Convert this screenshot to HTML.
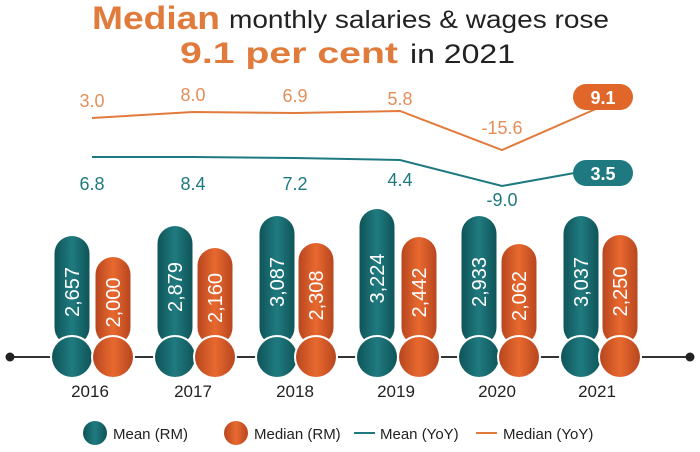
<!DOCTYPE html>
<html><head><style>
body{margin:0;background:#fff;}
svg{display:block;font-family:"Liberation Sans",Arial,sans-serif;}
</style></head><body>
<svg width="700" height="452" viewBox="0 0 700 452">
<defs>
<linearGradient id="tg" x1="0" x2="1"><stop offset="0" stop-color="#0f5458"/><stop offset="0.5" stop-color="#1f7b80"/><stop offset="1" stop-color="#0f5458"/></linearGradient>
<linearGradient id="og" x1="0" x2="1"><stop offset="0" stop-color="#b8461f"/><stop offset="0.5" stop-color="#e8692f"/><stop offset="1" stop-color="#b8461f"/></linearGradient>
</defs>
<rect width="700" height="452" fill="#fff"/>
<text x="92" y="29" font-size="32" font-weight="bold" fill="#e07b3c" textLength="128" lengthAdjust="spacingAndGlyphs">Median</text>
<text x="229" y="28" font-size="25" fill="#222" textLength="380" lengthAdjust="spacingAndGlyphs">monthly salaries &amp; wages rose</text>
<text x="180" y="63" font-size="30" font-weight="bold" fill="#e07b3c" textLength="218" lengthAdjust="spacingAndGlyphs">9.1 per cent</text>
<text x="410" y="63" font-size="27" fill="#222" textLength="105" lengthAdjust="spacingAndGlyphs">in 2021</text>

<polyline points="92,118 193,112 295,113 400,111 502,150 598,108" fill="none" stroke="#e07b3c" stroke-width="2"/>
<polyline points="92,157 193,157 295,158 400,160 502,186 580,172" fill="none" stroke="#1e7a80" stroke-width="2"/>
<g font-size="18" fill="#e07b3c" text-anchor="middle" opacity="0.85">
<text x="92" y="107">3.0</text><text x="193" y="101">8.0</text><text x="295" y="102">6.9</text><text x="400" y="105">5.8</text><text x="502" y="134">-15.6</text></g>
<g font-size="18" fill="#1e7a80" text-anchor="middle">
<text x="92" y="190">6.8</text><text x="193" y="190">8.4</text><text x="295" y="190">7.2</text><text x="400" y="186">4.4</text><text x="502" y="206">-9.0</text></g>
<rect x="573" y="84" width="60" height="26" rx="13" fill="#e0662a"/>
<text x="603" y="104" font-size="18" font-weight="bold" fill="#fff" text-anchor="middle">9.1</text>
<rect x="573" y="160" width="60" height="26" rx="13" fill="#1e7a80"/>
<text x="603" y="180" font-size="18" font-weight="bold" fill="#fff" text-anchor="middle">3.5</text>

<line x1="10" y1="357" x2="690" y2="357" stroke="#333" stroke-width="2"/>
<circle cx="10" cy="357" r="4.5" fill="#222"/><circle cx="690" cy="357" r="4.5" fill="#222"/>

<g id="bars"></g>
<g font-size="17" fill="#222" text-anchor="middle">
<text x="90" y="397">2016</text><text x="193" y="397">2017</text><text x="295" y="397">2018</text><text x="396" y="397">2019</text><text x="497" y="397">2020</text><text x="597" y="397">2021</text></g>

<circle cx="95" cy="433" r="12" fill="url(#tg)"/>
<text x="113" y="439" font-size="15" fill="#222">Mean (RM)</text>
<circle cx="236" cy="433" r="12" fill="url(#og)"/>
<text x="254" y="439" font-size="15" fill="#222">Median (RM)</text>
<line x1="354" y1="433" x2="375" y2="433" stroke="#1e7a80" stroke-width="2"/>
<text x="380" y="439" font-size="15" fill="#222">Mean (YoY)</text>
<line x1="476" y1="433" x2="497" y2="433" stroke="#e07b3c" stroke-width="2"/>
<text x="503" y="439" font-size="15" fill="#222">Median (YoY)</text>
</svg>
<script>
var d=[[72,236,2657,113,257,2000],[175,226,2879,215,248,2160],[277,216,3087,316,243,2308],[377,209,3224,419,237,2442],[479,216,2933,519,244,2062],[581,216,3037,620,235,2250]];
var g=document.getElementById('bars'),s='';
function fmt(n){return String(n).replace(/(\d)(\d{3})$/,'$1,$2');}
d.forEach(function(r){
 [[r[0],r[1],r[2],'tg'],[r[3],r[4],r[5],'og']].forEach(function(b){
  var x=b[0],t=b[1],w=35;
  s+='<rect x="'+(x-w/2)+'" y="'+t+'" width="'+w+'" height="'+(345-t)+'" rx="17.5" fill="url(#'+b[3]+')"/>';
  s+='<circle cx="'+x+'" cy="357" r="22" fill="#fff"/>';
  s+='<circle cx="'+x+'" cy="357" r="20" fill="url(#'+b[3]+')"/>';
  var cy=(t+336)/2+6;
  s+='<text transform="translate('+(x+7)+','+cy+') rotate(-90)" font-size="20" fill="#fff" text-anchor="middle">'+fmt(b[2])+'</text>';
 });
});
g.innerHTML=s;
</script>
</body></html>
